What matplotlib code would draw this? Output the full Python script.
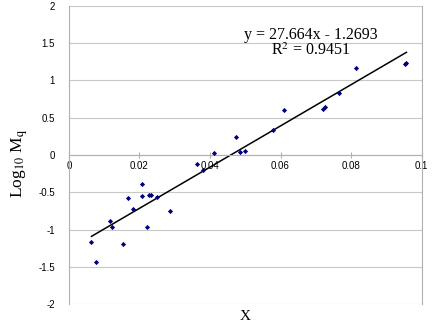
import numpy as np
import matplotlib
matplotlib.use("Agg")
import matplotlib.pyplot as plt

# data
x = [0.0064, 0.0077, 0.0116, 0.0122, 0.0153, 0.0167, 0.0183, 0.0206, 0.0207,
     0.0222, 0.0227, 0.0233, 0.0250, 0.0286, 0.0362, 0.0379, 0.0410, 0.0474,
     0.0485, 0.0499, 0.0578, 0.0610, 0.0720, 0.0727, 0.0765, 0.0814, 0.0954, 0.0957]
y = [-1.168, -1.436, -0.886, -0.962, -1.199, -0.581, -0.729, -0.385, -0.550,
     -0.966, -0.537, -0.541, -0.564, -0.748, -0.121, -0.197, 0.031, 0.242,
     0.036, 0.058, 0.332, 0.608, 0.611, 0.644, 0.828, 1.172, 1.221, 1.231]

slope = 27.664
intercept = -1.2693
r2 = 0.9451

xticks = [0, 0.02, 0.04, 0.06, 0.08, 0.1]
xticklabels = ["0", "0.02", "0.04", "0.06", "0.08", "0.1"]
yticks = [-2, -1.5, -1, -0.5, 0, 0.5, 1, 1.5, 2]
yticklabels = ["-2", "-1.5", "-1", "-0.5", "0", "0.5", "1", "1.5", "2"]

plt.rcParams['mathtext.fontset'] = 'stix'

fig = plt.figure(figsize=(4.36, 3.27), dpi=100)
ax = fig.add_axes([0.158, 0.0703, 0.809, 0.9114])

ax.scatter(x, y, marker='D', s=7, color='#000080', zorder=3, linewidths=0)

xl = np.array([min(x), max(x)])
ax.plot(xl, slope * xl + intercept, color='black', lw=1.1, zorder=2)

ax.set_xlim(0, 0.1)
ax.set_ylim(-2, 2)
ax.set_xticks(xticks)
ax.set_xticklabels(xticklabels)
ax.set_yticks(yticks)
ax.set_yticklabels(yticklabels)

ax.grid(axis='y', color='#c8c8c8', lw=0.8)
ax.set_axisbelow(True)

ax.spines['bottom'].set_position(('data', 0))
ax.spines['bottom'].set_color('#b0b0b0')
ax.spines['left'].set_color('#b0b0b0')
ax.spines['right'].set_color('#b0b0b0')
ax.spines['top'].set_visible(False)

ax.tick_params(axis='both', labelsize=7, colors='#b0b0b0', labelcolor='black',
               length=3)
ax.tick_params(axis='y', length=0, pad=10)
ax.tick_params(axis='x', direction='inout', length=4, pad=2)
for lab in ax.get_xticklabels() + ax.get_yticklabels():
    lab.set_family('Liberation Sans')

ax.text(0.0685, 1.5, "y = 27.664x - 1.2693\nR$^2$ = 0.9451",
        ha='center', va='center', fontsize=11.5, family='Liberation Serif',
        linespacing=0.95)

fig.text(0.563, 0.032, "X", ha='center', va='center', fontsize=11,
         family='Liberation Serif')
fig.text(0.045, 0.5, r"Log$_{10}$ M$_{\rm q}$", ha='center', va='center',
         rotation=90, fontsize=12.5, family='Liberation Serif')

fig.savefig("out.png", dpi=100)
